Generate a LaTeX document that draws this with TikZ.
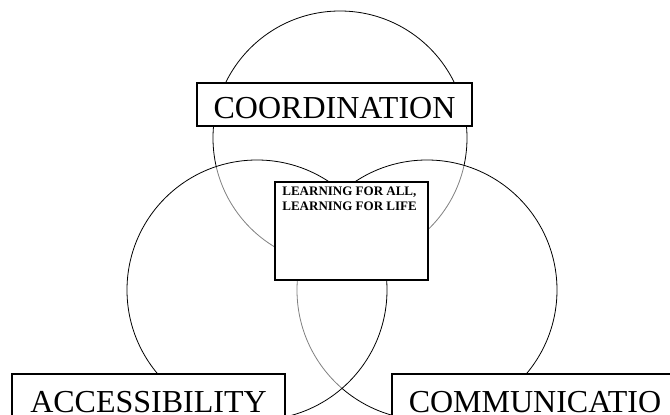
\documentclass[tikz,border=0pt]{standalone}
\usepackage{fontspec}
\setmainfont{Liberation Serif}
\usepackage{tikz}
\usetikzlibrary{positioning}
\tikzset{ring/.style = {draw, line width = 0.8pt}}
\tikzset{veil/.style = {ring, fill = white, fill opacity = 0.5}}
\tikzset{lbl/.style = {draw, fill = white, line width = 1.6pt, inner ysep = 0,
                       text height = 36pt, text depth = 7pt, anchor = north,
                       font = \fontsize{32}{32}\selectfont}}

\begin{document}
\begin{tikzpicture}[x = 1pt, y = -1pt]
      \useasboundingbox (0, 0) rectangle (670, 415);
      \clip (0, 0) rectangle (670, 415);
      \path [ring] (340, 138) circle [radius = 127pt];
      \path [veil] (427, 290) circle [radius = 130pt];
      \path [veil] (257, 290) circle [radius = 130pt];
      \node [lbl, minimum width = 275pt] (coord) at (334.5, 82) {COORDINATION};
      \node [lbl, minimum width = 273pt, text height = 39pt] (access) at (148.5, 373) {ACCESSIBILITY};
      \node [lbl, minimum width = 286pt, text height = 39pt] (commun) at (535, 373) {COMMUNICATIO};
      \node [lbl, minimum width = 153pt, minimum height = 98pt, anchor = center] (mission) at (351.5, 231) {};
      \node [anchor = north west, inner sep = 0, align = left,
             font = \fontsize{13}{15}\selectfont\bfseries]
            (missiontext) at ([shift = {(8pt, -5pt)}] mission.north west)
            {LEARNING FOR ALL,\\LEARNING FOR LIFE};
    \end{tikzpicture}
\end{document}
